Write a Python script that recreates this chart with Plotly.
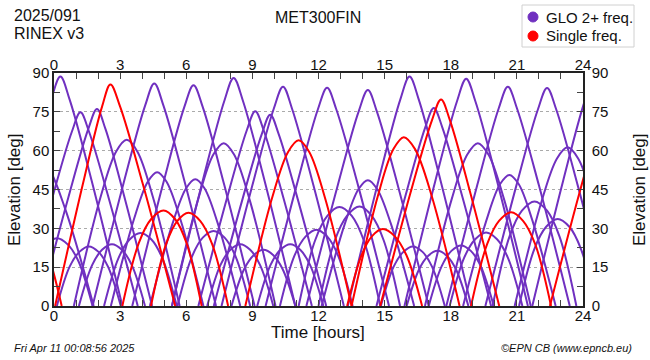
import plotly.graph_objects as go

# ---- data: each pass given as (time [h], elevation [deg]) points ----
glo_t = [
    [-2.5, -1.11, -0.13, 0.29, 0.71, 1.70, 3.1],
    [-1.4, -0.1, 0.81, 1.2, 1.59, 2.5, 3.8],
    [-0.65, 0.65, 1.56, 1.95, 2.33, 3.2, 4.45],
    [0.9, 2.1, 2.82, 3.3, 3.78, 4.5, 5.7],
    [1.75, 3.15, 4.13, 4.55, 4.97, 5.95, 7.35],
    [3.55, 4.94, 5.91, 6.33, 6.75, 7.72, 9.1],
    [2.58, 3.63, 4.26, 4.68, 5.1, 5.73, 6.78],
    [4.35, 5.38, 6.0, 6.41, 6.82, 7.43, 8.45],
    [5.35, 6.53, 7.23, 7.7, 8.17, 8.88, 10.05],
    [5.35, 6.75, 7.73, 8.15, 8.57, 9.55, 10.95],
    [6.55, 7.84, 8.74, 9.13, 9.52, 10.42, 11.7],
    [7.25, 8.53, 9.43, 9.81, 10.19, 11.08, 12.35],
    [7.6, 9.0, 9.97, 10.39, 10.8, 11.77, 13.15],
    [5.6, 6.26, 6.75, 7.24, 7.74, 8.24, 8.9],
    [2.27, 2.93, 3.43, 3.92, 4.42, 4.91, 5.57],
    [1.13, 1.73, 2.18, 2.63, 3.08, 3.53, 4.13],
    [0.13, 0.71, 1.15, 1.58, 2.02, 2.45, 3.03],
    [-1.45, -0.81, -0.34, 0.14, 0.62, 1.11, 1.75],
    [6.95, 7.55, 8.0, 8.45, 8.9, 9.35, 9.95],
    [8.05, 8.63, 9.07, 9.5, 9.94, 10.37, 10.95],
    [9.22, 9.82, 10.27, 10.72, 11.17, 11.62, 12.22],
    [10.25, 10.91, 11.41, 11.9, 12.4, 12.89, 13.55],
    [-3.2, -2.0, -1.28, -0.8, -0.28, 0.5, 1.8],
    [9.6, 11.0, 11.97, 12.39, 12.81, 13.8, 15.2],
    [11.45, 12.85, 13.82, 14.24, 14.65, 15.62, 17.0],
    [13.33, 14.73, 15.71, 16.13, 16.55, 17.53, 18.93],
    [14.63, 15.93, 16.84, 17.23, 17.62, 18.53, 19.83],
    [15.9, 17.3, 18.28, 18.7, 19.12, 20.1, 21.5],
    [17.8, 19.2, 20.17, 20.59, 21.01, 22.0, 23.4],
    [19.57, 20.97, 21.95, 22.37, 22.79, 23.77, 25.17],
    [16.83, 18.03, 18.75, 19.23, 19.71, 20.43, 21.63],
    [18.56, 19.61, 20.24, 20.66, 21.08, 21.71, 22.76],
    [20.9, 22.1, 22.82, 23.3, 23.78, 24.5, 25.7],
    [21.7, 23.1, 24.08, 24.5, 24.92, 25.9, 27.3],
    [12.14, 13.19, 13.82, 14.24, 14.66, 15.29, 16.34],
    [11.1, 11.84, 12.4, 12.95, 13.51, 14.06, 14.8],
    [12.0, 12.74, 13.3, 13.86, 14.41, 14.96, 15.7],
    [19.9, 20.66, 21.23, 21.8, 22.37, 22.94, 23.7],
    [21.1, 21.8, 22.33, 22.85, 23.38, 23.9, 24.6],
    [17.95, 18.61, 19.11, 19.6, 20.1, 20.59, 21.25],
    [14.83, 15.41, 15.85, 16.28, 16.72, 17.15, 17.73],
    [16.0, 16.56, 16.98, 17.4, 17.82, 18.24, 18.8],
    [17.0, 17.59, 18.03, 18.47, 18.91, 19.36, 19.95],
]
glo_el = [
    [0, 48.7, 79.7, 88.6, 79.7, 48.7, 0],
    [0, 41.1, 67.3, 74.8, 67.3, 41.1, 0],
    [0, 41.9, 68.5, 76.1, 68.5, 41.9, 0],
    [0, 41.7, 59.7, 64.2, 59.7, 41.7, 0],
    [0, 47.2, 77.3, 85.9, 77.3, 47.2, 0],
    [0, 46.9, 76.8, 85.3, 76.8, 46.9, 0],
    [0, 33.6, 48.1, 51.7, 48.1, 33.6, 0],
    [0, 31.9, 45.6, 49.0, 45.6, 31.9, 0],
    [0, 40.9, 58.5, 62.9, 58.5, 40.9, 0],
    [0, 48.5, 79.3, 88.1, 79.3, 48.5, 0],
    [0, 41.4, 67.7, 75.2, 67.7, 41.4, 0],
    [0, 40.6, 66.5, 73.9, 66.5, 40.6, 0],
    [0, 46.6, 76.2, 84.7, 76.2, 46.6, 0],
    [0, 19.1, 26.4, 29.0, 26.4, 19.1, 0],
    [0, 18.6, 25.7, 28.2, 25.7, 18.6, 0],
    [0, 15.8, 21.7, 23.9, 21.7, 15.8, 0],
    [0, 15.2, 20.9, 23.0, 20.9, 15.2, 0],
    [0, 17.3, 23.8, 26.2, 23.8, 17.3, 0],
    [0, 15.8, 21.7, 23.9, 21.7, 15.8, 0],
    [0, 14.3, 19.7, 21.7, 19.7, 14.3, 0],
    [0, 15.8, 21.7, 23.9, 21.7, 15.8, 0],
    [0, 19.5, 26.8, 29.5, 26.8, 19.5, 0],
    [0, 37.7, 53.9, 58.0, 53.9, 37.7, 0],
    [0, 46.4, 75.9, 84.3, 75.9, 46.4, 0],
    [0, 45.9, 75.1, 83.4, 75.1, 45.9, 0],
    [0, 48.7, 79.7, 88.6, 79.7, 48.7, 0],
    [0, 42.1, 68.9, 76.5, 68.9, 42.1, 0],
    [0, 48.3, 79.0, 87.8, 79.0, 48.3, 0],
    [0, 46.6, 76.2, 84.7, 76.2, 46.6, 0],
    [0, 46.3, 75.8, 84.2, 75.8, 46.3, 0],
    [0, 40.9, 58.5, 62.9, 58.5, 40.9, 0],
    [0, 32.9, 47.1, 50.6, 47.1, 32.9, 0],
    [0, 39.8, 57.0, 61.3, 57.0, 39.8, 0],
    [0, 48.4, 79.2, 88.0, 79.2, 48.4, 0],
    [0, 31.6, 45.2, 48.6, 45.2, 31.6, 0],
    [0, 25.2, 34.8, 38.2, 34.8, 25.2, 0],
    [0, 25.3, 34.9, 38.4, 34.9, 25.3, 0],
    [0, 26.7, 36.8, 40.4, 36.8, 26.7, 0],
    [0, 22.2, 30.6, 33.6, 30.6, 22.2, 0],
    [0, 18.7, 25.8, 28.4, 25.8, 18.7, 0],
    [0, 15.2, 20.9, 23.0, 20.9, 15.2, 0],
    [0, 14.1, 19.4, 21.3, 19.4, 14.1, 0],
    [0, 15.4, 21.3, 23.4, 21.3, 15.4, 0],
]
single_t = [
    [-3.2, -2.48, -1.94, -1.4, -0.88, -0.35, 0.35],
    [0.05, 1.31, 2.18, 2.56, 3.0, 4.03, 5.5],
    [3.1, 3.85, 4.41, 4.97, 5.49, 6.01, 6.7],
    [4.4, 5.08, 5.59, 6.1, 6.64, 7.18, 7.9],
    [8.68, 9.89, 10.62, 11.1, 11.58, 12.3, 13.5],
    [13.3, 13.95, 14.43, 14.92, 15.45, 15.99, 16.7],
    [13.5, 14.69, 15.4, 15.87, 16.38, 17.14, 18.4],
    [14.8, 16.18, 17.15, 17.56, 17.96, 18.88, 20.2],
    [18.92, 19.65, 20.19, 20.74, 21.28, 21.83, 22.55],
    [22.5, 23.85, 24.8, 25.2, 25.6, 26.6, 28.0],
]
single_el = [
    [0, 21.8, 30.0, 33.0, 30.0, 21.8, 0],
    [0, 47.1, 77.0, 85.6, 77.0, 47.1, 0],
    [0, 24.4, 33.6, 36.9, 33.6, 24.4, 0],
    [0, 23.8, 32.8, 36.0, 32.8, 23.8, 0],
    [0, 41.6, 59.5, 64.0, 59.5, 41.6, 0],
    [0, 19.6, 27.0, 29.7, 27.0, 19.6, 0],
    [0, 42.4, 60.6, 65.2, 60.6, 42.4, 0],
    [0, 43.9, 71.8, 79.8, 71.8, 43.9, 0],
    [0, 23.9, 32.9, 36.2, 32.9, 23.9, 0],
    [0, 44.0, 72.0, 80.0, 72.0, 44.0, 0],
]
x_ticks = [0, 3, 6, 9, 12, 15, 18, 21, 24]
y_ticks = [0, 15, 30, 45, 60, 75, 90]
legend_names = ["GLO 2+ freq.", "Single freq."]

PURPLE = "#7030c0"
RED = "#ff0000"
FONT = "Liberation Sans, Arial, sans-serif"

fig = go.Figure()
for t, e in zip(glo_t, glo_el):
    fig.add_trace(go.Scatter(x=t, y=e, mode="lines", line=dict(color=PURPLE, width=2, shape="spline", smoothing=1.0),
                             showlegend=False, hoverinfo="skip"))
for t, e in zip(single_t, single_el):
    fig.add_trace(go.Scatter(x=t, y=e, mode="lines", line=dict(color=RED, width=2, shape="spline", smoothing=1.0),
                             showlegend=False, hoverinfo="skip"))
# invisible trace to activate the secondary axes
fig.add_trace(go.Scatter(x=[None], y=[None], xaxis="x2", yaxis="y2", showlegend=False, hoverinfo="skip"))

axis_common = dict(showline=True, linecolor="#222222", linewidth=1.5, ticks="inside", ticklen=6, tickwidth=1,
                   tickcolor="#444444", tickfont=dict(size=15, color="#111111", family=FONT), zeroline=False)

fig.update_layout(
    width=650, height=360,
    margin=dict(l=54, r=67, t=73, b=54, autoexpand=False),
    paper_bgcolor="white", plot_bgcolor="white",
    font=dict(family=FONT, color="#111111"),
    xaxis=dict(range=[0, 24], tickvals=x_ticks, showgrid=False, ticklabelstandoff=-5,
               minor=dict(dtick=1, ticks="inside", ticklen=6, tickcolor="#444444", showgrid=False), **axis_common),
    xaxis2=dict(range=[0, 24], tickvals=x_ticks, overlaying="x", side="top", showgrid=False, anchor="y",
                ticklabelstandoff=-5,
                minor=dict(dtick=1, ticks="inside", ticklen=6, tickcolor="#444444", showgrid=False), **axis_common),
    yaxis=dict(range=[0, 90], tickvals=y_ticks, showgrid=True, gridcolor="#aaaaaa", griddash="dot", gridwidth=1,
               minor=dict(dtick=7.5, ticks="inside", ticklen=6, tickcolor="#444444", showgrid=False), **axis_common),
    yaxis2=dict(range=[0, 90], tickvals=y_ticks, overlaying="y", side="right", showgrid=False, anchor="x",
                ticklabelstandoff=4,
                minor=dict(dtick=7.5, ticks="inside", ticklen=6, tickcolor="#444444", showgrid=False), **axis_common),
    showlegend=False,
)

# manual legend box (paper coordinates)
def px_x(p):
    return (p - 54) / 529.0

def px_y(p):
    return (306 - p) / 233.0

shapes = [dict(type="rect", xref="paper", yref="paper", x0=px_x(522), x1=px_x(634), y0=px_y(5), y1=px_y(47),
               line=dict(color="#d0d0d0", width=1), fillcolor="white", layer="above")]
ann = []
for name, col, cy in zip(legend_names, [PURPLE, RED], [17, 36]):
    shapes.append(dict(type="circle", xref="paper", yref="paper", x0=px_x(528), x1=px_x(538),
                       y0=px_y(cy + 5), y1=px_y(cy - 5), line=dict(color=col, width=1), fillcolor=col, layer="above"))
    ann.append(dict(text=name, x=px_x(544), y=px_y(cy), xanchor="left", yanchor="middle", font=dict(size=15)))

ann += [
    dict(text="2025/091", x=px_x(12), y=px_y(16), xanchor="left", yanchor="middle", font=dict(size=16)),
    dict(text="RINEX v3", x=px_x(12), y=px_y(33), xanchor="left", yanchor="middle", font=dict(size=16)),
    dict(text="MET300FIN", x=px_x(318), y=px_y(18), xanchor="center", yanchor="middle", font=dict(size=16)),
    dict(text="<i>Fri Apr 11 00:08:56 2025</i>", x=px_x(12), y=px_y(348), xanchor="left", yanchor="middle", font=dict(size=11)),
    dict(text="<i>©EPN CB (www.epncb.eu)</i>", x=px_x(634), y=px_y(348), xanchor="right", yanchor="middle", font=dict(size=11)),
    dict(text="Time [hours]", x=px_x(318), y=px_y(332), xanchor="center", yanchor="middle", font=dict(size=17)),
    dict(text="Elevation [deg]", x=px_x(14), y=px_y(190), xanchor="center", yanchor="middle", textangle=-90, font=dict(size=17)),
    dict(text="Elevation [deg]", x=px_x(639), y=px_y(190), xanchor="center", yanchor="middle", textangle=-90, font=dict(size=17)),
]
for a in ann:
    a.update(xref="paper", yref="paper", showarrow=False)
    a["font"].update(family=FONT, color="#111111")
fig.update_layout(annotations=ann, shapes=shapes)

fig.write_html("out.html", config={"displayModeBar": False},
               post_script="document.body.style.margin='0px';document.body.style.overflow='hidden';")
